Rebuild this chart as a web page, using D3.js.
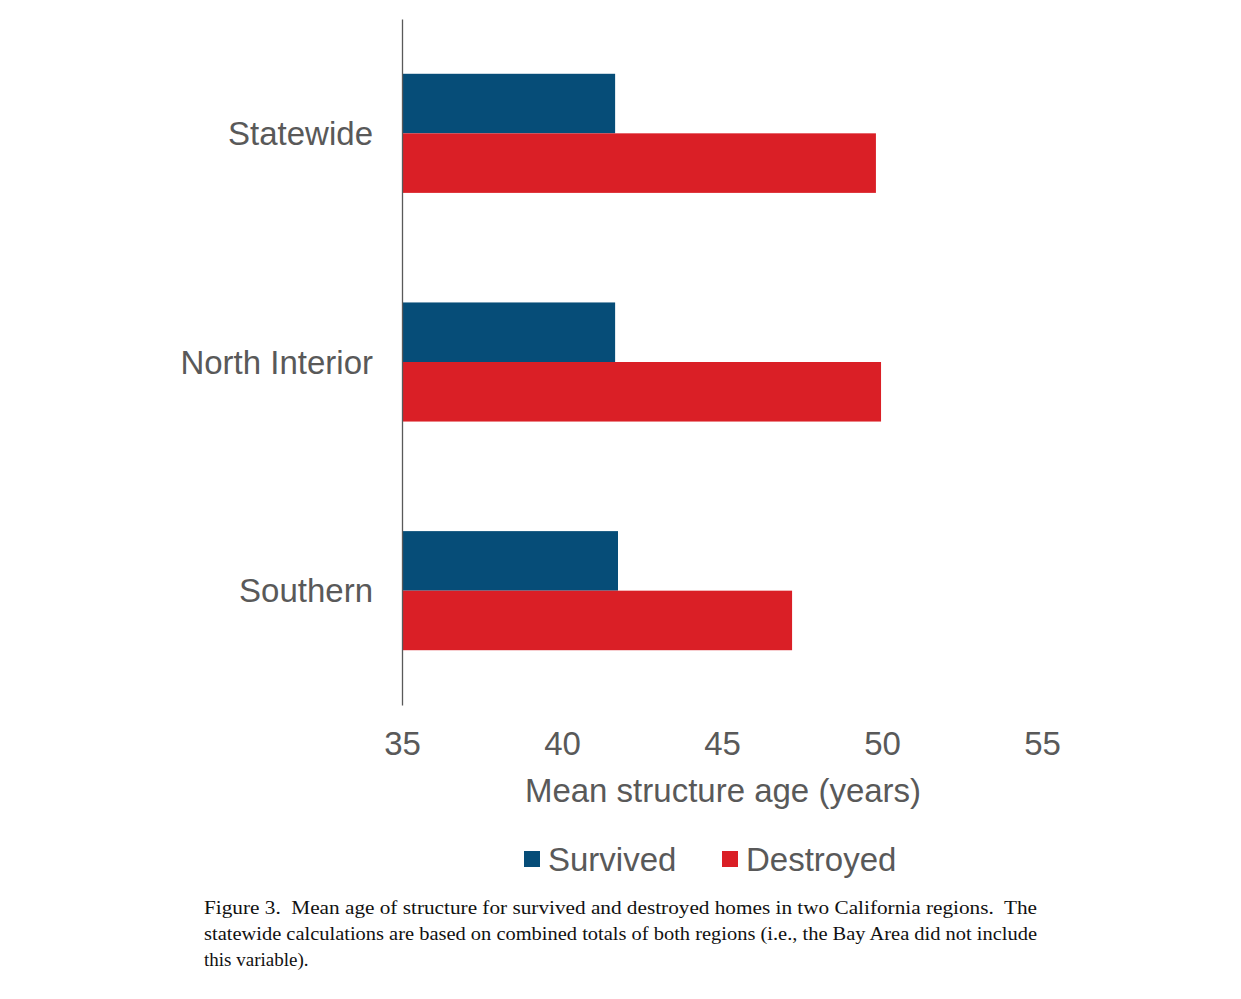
<!DOCTYPE html>
<html>
<head>
<meta charset="utf-8">
<script src="https://cdn.jsdelivr.net/npm/d3@7"></script>
<style>
  body { margin: 0; background: #fff; }
</style>
</head>
<body>
<svg id="chart"></svg>
<script>
const categories = ['Statewide', 'North Interior', 'Southern'];
const seriesNames = ['Survived', 'Destroyed'];
const survived = [41.66, 41.66, 41.75];
const destroyed = [49.81, 49.97, 47.19];
const xTicks = [35, 40, 45, 50, 55];
const xLabel = 'Mean structure age (years)';
const captionLines = [
  'Figure 3.  Mean age of structure for survived and destroyed homes in two California regions.  The',
  'statewide calculations are based on combined totals of both regions (i.e., the Bay Area did not include',
  'this variable).'
];

const W = 1241, H = 999,
  colors = { Survived: '#064d78', Destroyed: '#da1f26' },
  textColor = '#595959',
  fontFam = '"Liberation Sans", Arial, sans-serif',
  fontSize = 33;

const $svg = d3.select('#chart').attr('width', W).attr('height', H);

const xScale = d3.scaleLinear().domain([35, 55]).range([402, 1042]),
  yScale = d3.scaleBand().domain(categories).range([19, 705]).padding(0),
  yInner = d3.scaleBand().domain(seriesNames).range([0, yScale.bandwidth()])
    .paddingInner(0).paddingOuter(0.92);

const rows = categories.map((c, i) => ({ cat: c, Survived: survived[i], Destroyed: destroyed[i] }));

// bars
const groups = $svg.selectAll('.grp')
  .data(rows)
  .enter()
  .append('g')
  .attr('class', 'grp')
  .attr('transform', (d) => 'translate(0,' + yScale(d.cat) + ')');
groups.selectAll('rect')
  .data((d) => seriesNames.map((s) => ({ key: s, value: d[s] })))
  .enter()
  .append('rect')
  .attr('x', xScale(35))
  .attr('y', (d) => yInner(d.key))
  .attr('width', (d) => xScale(d.value) - xScale(35))
  .attr('height', yInner.bandwidth())
  .attr('fill', (d) => colors[d.key]);

// y axis line + category labels
const yAxis = $svg.append('g')
  .attr('transform', 'translate(' + xScale(35) + ',0)')
  .call(d3.axisLeft(yScale).tickSize(0).tickPadding(29));
yAxis.select('.domain').attr('stroke', '#595959').attr('stroke-width', 1.3);
yAxis.selectAll('text')
  .attr('font-family', fontFam)
  .attr('font-size', fontSize)
  .attr('fill', textColor)
  .attr('dy', '0.35em');

// x tick labels (no axis line drawn in reference)
const xAxis = $svg.append('g')
  .attr('transform', 'translate(0,705)')
  .call(d3.axisBottom(xScale).tickValues(xTicks).tickSize(0).tickPadding(27));
xAxis.select('.domain').remove();
xAxis.selectAll('text')
  .attr('font-family', fontFam)
  .attr('font-size', fontSize)
  .attr('fill', textColor);

$svg.append('text')
  .text(xLabel)
  .attr('x', (xScale(35) + xScale(55)) / 2 + 1)
  .attr('y', 802)
  .attr('text-anchor', 'middle')
  .attr('font-family', fontFam)
  .attr('font-size', fontSize)
  .attr('fill', textColor);

// legend
const legendX = [524, 722];
const $legend = $svg.append('g');
$legend.selectAll('rect')
  .data(seriesNames)
  .enter()
  .append('rect')
  .attr('x', (d, i) => legendX[i])
  .attr('y', 851)
  .attr('width', 16)
  .attr('height', 16)
  .attr('fill', (d) => colors[d]);
$legend.selectAll('text')
  .data(seriesNames)
  .enter()
  .append('text')
  .attr('x', (d, i) => legendX[i] + 24)
  .attr('y', 871)
  .attr('font-family', fontFam)
  .attr('font-size', fontSize)
  .attr('fill', textColor)
  .text((d) => d);

// caption
const captionLen = [833, 833, null];
$svg.selectAll('.caption')
  .data(captionLines)
  .enter()
  .append('text')
  .attr('class', 'caption')
  .attr('x', 204)
  .attr('y', (d, i) => 914 + i * 26)
  .attr('font-family', '"Liberation Serif", "Times New Roman", serif')
  .attr('font-size', 19)
  .attr('fill', '#111')
  .style('white-space', 'pre')
  .attr('textLength', (d, i) => captionLen[i])
  .attr('lengthAdjust', 'spacingAndGlyphs')
  .text((d) => d);
</script>
</body>
</html>
